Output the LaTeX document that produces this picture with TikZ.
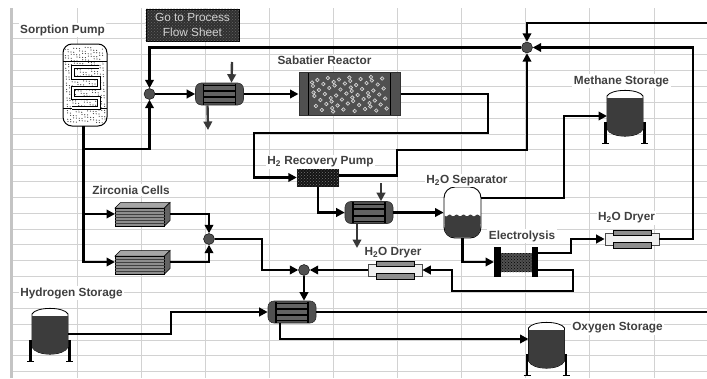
\documentclass[tikz,border=0pt]{standalone}
\usepackage{fontspec}
\setmainfont{Liberation Sans}
\usepackage{tikz}
\usetikzlibrary{calc,arrows.meta,patterns}
\definecolor{GridCol}{HTML}{D2D2D2}
\definecolor{BandCol}{HTML}{C4C4C4}
\definecolor{LabelCol}{HTML}{404040}
\definecolor{ShellCol}{HTML}{505050}
\definecolor{TankCol}{HTML}{3C3C3C}
\definecolor{TubeCol}{HTML}{8E8E8E}
\definecolor{BtnCol}{HTML}{303030}
% heat exchanger
\newcommand{\hxunit}[2]{%
  \node[hxbox] (#1) at (#2) {};
  \coordinate (#1-top) at ($(#1.north)+(12,0)$);
  \coordinate (#1-bot) at ($(#1.south)+(-12,0)$);
  \begin{scope}[shift={(#1.center)}]
    \fill[TubeCol!70!black] (-16,-8) rectangle (16,8);
    \draw[line width=1.5pt] (-16,-10.5) -- (-16,10.5);
    \draw[line width=1.5pt] (16,-10.5) -- (16,10.5);
    \draw[line width=1pt] (-16,-8.5) -- (16,-8.5);
    \draw[line width=1.7pt] (-16,-3.2) -- (16,-3.2);
    \draw[line width=1.7pt] (-16,3.2) -- (16,3.2);
    \draw[line width=1pt] (-16,8.5) -- (16,8.5);
  \end{scope}}
% storage tank on two legs
\newcommand{\tankunit}[2]{%
  \node[tankbox] (#1) at (#2) {};
  \begin{scope}[shift={(#1.center)}]
    \draw[line width=2.4pt] (-19.5,6) -- (-19.5,27);
    \draw[line width=2.4pt] (19.5,6) -- (19.5,27);
    \draw[line width=1.4pt] (-23,27.5) -- (-16,27.5);
    \draw[line width=1.4pt] (16,27.5) -- (23,27.5);
    \draw[fill=white, line width=.8pt] (-18,-20) .. controls (-14,-27.5) and (14,-27.5) .. (18,-20)
      -- (18,13) .. controls (14,22.5) and (-14,22.5) .. (-18,13) -- cycle;
    \fill[TankCol] (-18,-18) -- (18,-18) -- (18,13) .. controls (14,22.5) and (-14,22.5) .. (-18,13) -- cycle;
  \end{scope}}
% gas dryer
\newcommand{\dryerunit}[2]{%
  \node[dryerbox] (#1) at (#2) {};
  \begin{scope}[shift={(#1.center)}]
    \draw[fill=TubeCol, line width=.7pt] (-19,-9) rectangle (19,-3.5);
    \draw[fill=TubeCol, line width=.7pt] (-19,3.5) rectangle (19,9);
  \end{scope}}
% stacked cell block
\newcommand{\cellunit}[2]{%
  \node[cellbox] (#1) at (#2) {};
  \begin{scope}[shift={(#1.center)}]
    \draw[fill=TubeCol!80!white, line width=.5pt] (-27.5,-6) -- (-22,-11.5) -- (27.5,-11.5) -- (22,-6) -- cycle;
    \draw[fill=TubeCol!70!black, line width=.5pt] (22,-6) -- (27.5,-11.5) -- (27.5,6.5) -- (22,12) -- cycle;
    \draw[fill=TubeCol, line width=.7pt] (-27.5,-6) rectangle (22,12);
    \foreach \ly in {-3,0,3,6,9} \draw[black!75, line width=.8pt] (-27.5,\ly) -- (22,\ly);
  \end{scope}}
\begin{document}
\begin{tikzpicture}[x=1pt,y=-1pt,>={Triangle[length=8.5pt,width=8.5pt]}]
  \tikzstyle{gridline}=[GridCol, line width=.9pt]
  \tikzstyle{pipe}=[black, line width=2.3pt]
  \tikzstyle{feed}=[ShellCol!70!black, line width=2.4pt]
  \tikzstyle{lbl}=[fill=white, inner sep=1.5pt, text=LabelCol,
               font=\fontsize{11.8}{13}\selectfont\bfseries]
  \tikzstyle{junc}=[circle, fill=ShellCol, draw=black, line width=.4pt, minimum size=11pt, inner sep=0pt]
  \tikzstyle{hxbox}=[draw=ShellCol!60!black, fill=ShellCol, rounded corners=6pt, line width=.6pt,
               minimum width=48pt, minimum height=22pt, inner sep=0pt]
  \tikzstyle{tankbox}=[minimum width=36pt, minimum height=41pt, inner sep=0pt, outer sep=0pt]
  \tikzstyle{dryerbox}=[draw=black!70, fill=black!6, line width=.7pt,
               minimum width=54pt, minimum height=12pt, inner sep=0pt]
  \tikzstyle{cellbox}=[minimum width=55pt, minimum height=23pt, inner sep=0pt, outer sep=0pt]
  \useasboundingbox (0,0) rectangle (707,378);
  % sheet background
  \fill[white] (0,0) rectangle (707,378);
  \foreach \k in {0,...,22} \draw[gridline] (13,{23+15.85*\k}) -- (707,{23+15.85*\k});
  \foreach \k in {1,...,10} \draw[gridline] ({13+64.1*\k},8) -- ({13+64.1*\k},378);
  \fill[BandCol] (10,8) rectangle (13,378);
  % go to button
  \node[draw=black, line width=1pt, fill=BtnCol, minimum width=93pt, minimum height=32pt] (button) at (192.5,25) {};
  \fill[pattern=crosshatch dots, pattern color=black!60] (button.north west) rectangle (button.south east);
  \node[align=center, text=black!18, font=\fontsize{11.8}{15}\selectfont] (buttontext) at (192.5,25) {Go to Process\\Flow Sheet};
  % sorption pump
  \node[draw=black, fill=white, line width=1pt, rounded corners=9pt, minimum width=44pt, minimum height=82pt,
        inner sep=0pt] (sorption) at (85,85) {};
  \foreach \i in {1,...,300}{
    \pgfmathsetmacro\dx{65+mod(\i*30.2,40)}
    \pgfmathsetmacro\dy{47+mod(\i*43.3,76)}
    \fill[black!75] (\dx,\dy) circle (.6pt);
  }
  \draw[line width=.9pt] (63,61) -- (107,61);
  \draw[line width=.9pt] (63,108) -- (107,108);
  \draw[black, line width=3.2pt]
    (72,108) -- (99,108) -- (99,98) -- (73,98) -- (73,88) -- (99,88) -- (99,78) -- (73,78) -- (73,67) -- (99,67);
  \draw[white, line width=1.2pt]
    (72,108) -- (99,108) -- (99,98) -- (73,98) -- (73,88) -- (99,88) -- (99,78) -- (73,78) -- (73,67) -- (99,67);
  \coordinate (pumpout) at (83.5,126);
  \coordinate (pumptee) at (83.5,149);
  % sabatier reactor
  \node[draw=black!80, fill=ShellCol, line width=1pt, minimum width=101pt, minimum height=43pt,
        inner sep=0pt] (sabatier) at (349.5,94) {};
  \draw[line width=1.4pt] (308.5,73) -- (308.5,115);
  \draw[line width=1.4pt] (390.5,73) -- (390.5,115);
  \foreach \i in {1,...,60}{
    \pgfmathsetmacro\bx{311.5+mod(\i*57.37,76)}
    \pgfmathsetmacro\by{76+mod(\i*20.5,36)}
    \draw[draw=white!85!black, fill=black!60, line width=.6pt] (\bx,\by) circle (1.8pt);
  }
  % recovery pump
  \node[fill=black!92, minimum width=42pt, minimum height=18pt, inner sep=0pt] (h2pump) at (318,177.5) {};
  \fill[pattern=crosshatch dots, pattern color=black!55] (h2pump.north west) rectangle (h2pump.south east);
  % water separator
  \node[draw=black, fill=white, line width=.9pt, rounded corners=11pt, minimum width=37pt, minimum height=51pt,
        inner sep=0pt] (separator) at (462.5,212.5) {};
  \fill[TankCol, rounded corners=10pt] (444.5,216) -- (444.5,237.5) -- (480.5,237.5) -- (480.5,216) -- cycle;
  \fill[TankCol] plot[domain=0:36,samples=45] (444.5+\x,{215.5+.9*sin(\x*52)}) -- (480.5,224) -- (444.5,224) -- cycle;
  % electrolysis stack
  \node[minimum width=44pt, minimum height=30pt, inner sep=0pt, outer sep=0pt] (electro) at (516,262) {};
  \fill[ShellCol] (500,253) rectangle (533,272);
  \fill[pattern=crosshatch dots, pattern color=black] (500,253) rectangle (533,272);
  \fill[black] (494,247) rectangle (500.5,277);
  \fill[black] (532,247) rectangle (538,277);
  % process units
  \hxunit{hxa}{219.5,94}
  \hxunit{hxb}{369,212.5}
  \hxunit{hxc}{292,312}
  \tankunit{methane}{625,116}
  \tankunit{hydrogen}{50,334}
  \tankunit{oxygen}{546.5,348}
  \dryerunit{dryera}{395,270}
  \dryerunit{dryerb}{632,239}
  \cellunit{cella}{142.5,214}
  \cellunit{cellb}{142.5,262}
  % mixing points
  \node[junc] (junca) at (149.5,94) {};
  \node[junc] (juncb) at (527,47.5) {};
  \node[junc] (juncc) at (304,270) {};
  \node[junc] (juncd) at (209,239) {};
  % free ends
  \coordinate (feeda) at (232,62);
  \coordinate (draina) at (208,130);
  \coordinate (feedb) at (381,183);
  \coordinate (drainb) at (357,248);
  \coordinate (topline) at (707,23);
  \coordinate (rightout) at (707,312);
  % pipes from the sorption pump
  \draw[pipe] (pumpout) -- (pumptee);
  \draw[pipe,->] (pumptee) -| (junca.south);
  \draw[pipe,->] (pumptee) |- (cella.west);
  \draw[pipe,->] (pumptee) |- (cellb.west);
  \draw[pipe,->] (juncb.west) -| (junca.north);
  % reactor loop
  \draw[pipe,->] (junca.east) -- (hxa.west);
  \draw[feed,->] (feeda) -- (hxa-top);
  \draw[feed,->] (hxa-bot) -- (draina);
  \draw[pipe,->] (hxa.east) -- (sabatier.west);
  \draw[pipe,->] (sabatier.east) -| (488,133) -| (254,177.5) -- (h2pump.west);
  \draw[pipe,->] ($(h2pump.east)+(0,-2)$) -| (397,150) -| (juncb.south);
  \draw[pipe,->] (h2pump.south) |- (hxb.west);
  \draw[feed,->] (feedb) -- (hxb-top);
  \draw[feed,->] (hxb-bot) -- (drainb);
  \draw[pipe,->] (hxb.east) -- (separator.west);
  % separator products
  \draw[pipe,->] ($(separator.east)+(0,-14.5)$) -| (564,116) -- (methane.west);
  \draw[pipe,->] (separator.south) |- (electro.west);
  \draw[pipe,->] ($(electro.east)+(0,-9)$) -| (571,239) -- (dryerb.west);
  \draw[pipe,->] (dryerb.east) -- (693,239) |- (juncb.east);
  \draw[pipe,->] (topline) -| (juncb.north);
  \draw[pipe,->] ($(electro.east)+(0,8)$) -| (573,291) -| (452,270) -- (dryera.east);
  \draw[pipe,->] (dryera.west) -- (juncc.east);
  % zirconia side
  \draw[pipe,->] (cella.east) -| (juncd.north);
  \draw[pipe,->] (cellb.east) -| (juncd.south);
  \draw[pipe,->] (juncd.east) -| (262,270) -- (juncc.west);
  \draw[pipe,->] (juncc.south) -- (hxc-top);
  % bottom unit
  \draw[pipe,->] (hydrogen.east) -| (171,312) -- (hxc.west);
  \draw[pipe] (hxc.east) -- (rightout);
  \draw[pipe,->] (hxc-bot) |- ($(oxygen.west)+(0,-9)$);
  % labels
  \node[lbl] (lblsorption) at (62.5,30) {Sorption Pump};
  \node[lbl] (lblsabatier) at (324.5,60.5) {Sabatier Reactor};
  \node[lbl] (lblzirconia) at (131,190) {Zirconia Cells};
  \node[lbl] (lblrecovery) at (320.5,162) {H\textsubscript{2} Recovery Pump};
  \node[lbl] (lblseparator) at (467,180.5) {H\textsubscript{2}O Separator};
  \node[lbl] (lblmethane) at (621.5,81) {Methane Storage};
  \node[lbl] (lbldryera) at (393,253) {H\textsubscript{2}O Dryer};
  \node[lbl] (lbldryerb) at (626.5,218) {H\textsubscript{2}O Dryer};
  \node[lbl] (lblelectro) at (522,236) {Electrolysis};
  \node[lbl] (lblhydrogen) at (71.5,293) {Hydrogen Storage};
  \node[lbl] (lbloxygen) at (617.5,328) {Oxygen Storage};
\end{tikzpicture}
\end{document}
